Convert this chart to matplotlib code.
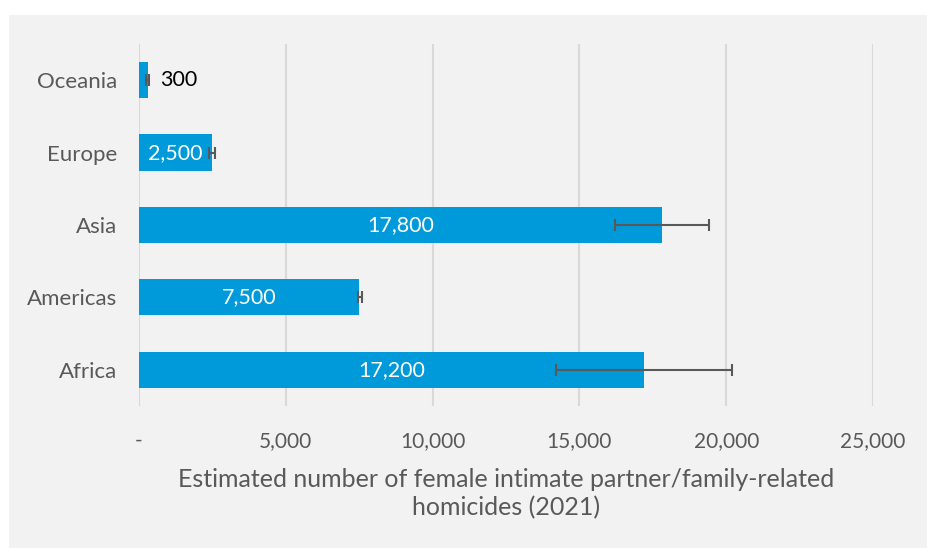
import numpy as np
import matplotlib.pyplot as plt
from matplotlib.patches import Rectangle

regions = ["Africa", "Americas", "Asia", "Europe", "Oceania"]
values = [17200, 7500, 17800, 2500, 300]
err_low = [14200, 7450, 16200, 2400, 240]
err_high = [20200, 7600, 19400, 2600, 340]
xticks = [0, 5000, 10000, 15000, 20000, 25000]
xticklabels = ["-", "5,000", "10,000", "15,000", "20,000", "25,000"]

plt.rcParams['font.family'] = ['Lato', 'DejaVu Sans']
grey_txt = "#595959"
blue = "#009ADA"

fig = plt.figure(figsize=(9.28, 5.49), dpi=100, facecolor="white")
fig.add_artist(Rectangle((9/928, 0.002), 1 - 9/928, 1 - 15/549 - 0.002,
                         transform=fig.transFigure, facecolor="#f2f2f2",
                         edgecolor="none", zorder=-10))
ax = fig.add_axes([139/928, 1 - 406/549, (873 - 139)/928, (406 - 44)/549])
ax.set_facecolor("none")
ax.set_zorder(1)

y = np.arange(len(regions))
vals = np.array(values)
xerr = [vals - np.array(err_low), np.array(err_high) - vals]
ax.barh(y, vals, height=0.5, color=blue, zorder=2)
ax.errorbar(vals, y, xerr=xerr, fmt="none", ecolor=grey_txt, elinewidth=1.5,
            capsize=4.5, capthick=1.5, zorder=3)

for yi, v in zip(y, values):
    if v < 1000:
        ax.text(v + 430, yi, f"{v:,}", va="center", ha="left", color="black", fontsize=15.5)
    else:
        ax.text(v / 2, yi, f"{v:,}", va="center", ha="center", color="white", fontsize=15.5)

ax.set_xlim(0, 25000)
ax.set_ylim(-0.5, 4.5)
ax.set_xticks(xticks)
ax.set_xticklabels(xticklabels)
ax.set_yticks(y)
ax.set_yticklabels(regions)
ax.tick_params(length=0, colors=grey_txt)
ax.tick_params(axis="x", pad=18, labelsize=15)
ax.tick_params(axis="y", pad=16, labelsize=16)
ax.grid(axis="x", color="#d9d9d9", linewidth=1.5, zorder=1)
for s in ax.spines.values():
    s.set_visible(False)
ax.set_xlabel("Estimated number of female intimate partner/family-related\nhomicides (2021)",
              fontsize=18, color=grey_txt, labelpad=12, linespacing=1.3)

fig.savefig("out.png", dpi=100, facecolor="white")
